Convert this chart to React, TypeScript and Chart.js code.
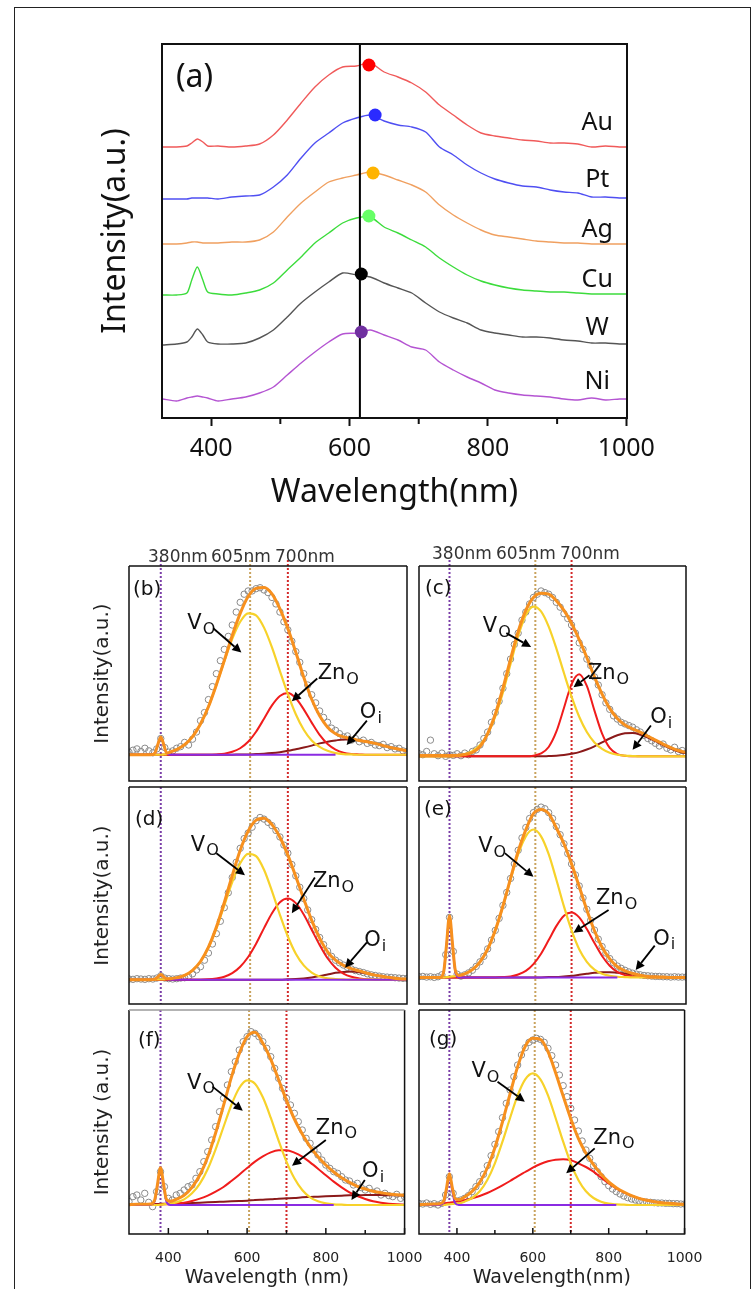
import { useEffect, useRef } from 'react';
import { Chart, registerables } from 'chart.js';

Chart.register(...registerables);

const FONT_A = '"Noto Sans", "DejaVu Sans", sans-serif';
const FONT_L = '"DejaVu Sans", "Noto Sans", sans-serif';

// ---------------- Panel (a): stacked PL spectra ----------------
const A_WAVELENGTH = [330, 350, 365, 372, 380, 388, 395, 410, 430, 450, 470, 490, 510, 530, 550, 570, 590, 610, 630, 650, 670, 690, 710, 730, 750, 770, 790, 810, 830, 850, 870, 890, 910, 930, 950, 970, 990, 1000];
const A_AU = [271, 271, 272, 275, 279, 276, 272, 272, 271, 272, 274, 283, 298, 315, 331, 343, 351, 352, 355, 346, 341, 335, 326, 313, 303, 293, 285, 282, 280, 278, 277, 275, 275, 274, 271, 272, 271, 271];
const A_PT = [219, 219, 219, 220, 220, 220, 220, 219, 221, 222, 223, 231, 243, 260, 275, 285, 295, 300, 303, 297, 293, 291, 286, 271, 263, 253, 245, 239, 235, 232, 231, 228, 226, 225, 221, 221, 220, 220];
const A_AG = [174, 174, 175, 176, 176, 175, 175, 175, 176, 176, 178, 186, 201, 215, 226, 236, 240, 243, 246, 243, 238, 233, 226, 213, 203, 195, 188, 183, 181, 179, 177, 176, 175, 175, 174, 174, 174, 174];
const A_CU = [123, 123, 125, 138, 151, 138, 126, 124, 123, 125, 128, 135, 148, 161, 175, 185, 195, 200, 201, 191, 185, 178, 171, 160, 151, 143, 137, 133, 130, 128, 127, 126, 126, 125, 124, 124, 124, 124];
const A_W = [73, 74, 76, 81, 89, 83, 76, 74, 74, 75, 80, 88, 101, 115, 126, 136, 145, 143, 141, 135, 130, 125, 115, 106, 100, 95, 88, 85, 83, 81, 81, 80, 78, 77, 75, 75, 74, 74];
const A_NI = [19, 17, 20, 21, 22, 21, 20, 17, 19, 21, 25, 31, 43, 55, 66, 76, 84, 85, 88, 83, 78, 71, 68, 56, 48, 41, 35, 28, 25, 23, 22, 21, 19, 18, 20, 18, 19, 19];
const A_SERIES = [A_AU, A_PT, A_AG, A_CU, A_W, A_NI];
const A_NAMES = ['Au', 'Pt', 'Ag', 'Cu', 'W', 'Ni'];
const A_PEAK_WL = [628, 637, 634, 628, 617, 617];
const A_PEAK_VAL = [353, 303, 245, 202, 144, 86];
const A_REF_WL = 615;
const A_X_TICKS = [400, 600, 800, 1000];
const A_X_MINOR = [500, 700, 900];
const A_LABEL_WL = 958;
const A_LABEL_VAL = [295, 238, 188, 138, 90, 36];

const A_LINE_COLORS = ['#F05A5A', '#4F4FF2', '#F0A060', '#3CDC3C', '#555555', '#B454D2'];
const A_DOT_COLORS = ['#FF0000', '#2B2BFF', '#FFB400', '#66FF66', '#000000', '#7030A0'];

// ---------------- Panels (b)-(g): fitted spectra ----------------
const FIT_WL = [300, 320, 340, 355, 365, 372, 380, 388, 395, 405, 420, 440, 460, 480, 500, 520, 540, 560, 580, 600, 620, 640, 660, 680, 700, 720, 740, 760, 780, 800, 820, 840, 860, 880, 900, 920, 940, 960, 980, 1000];
const UV_WL = [300, 340, 355, 365, 372, 380, 388, 395, 405, 420, 500, 600, 700, 820, 1000];
const DATA_WL = [300, 310, 320, 330, 340, 350, 360, 370, 380, 390, 400, 410, 420, 430, 440, 450, 460, 470, 480, 490, 500, 510, 520, 530, 540, 550, 560, 570, 580, 590, 600, 610, 620, 630, 640, 650, 660, 670, 680, 690, 700, 710, 720, 730, 740, 750, 760, 770, 780, 790, 800, 810, 820, 830, 840, 850, 860, 870, 880, 890, 900, 910, 920, 930, 940, 950, 960, 970, 980, 990, 1000];
const GUIDE_WL = [380, 605, 700];
const GUIDE_LABELS = ['380nm', '605nm', '700nm'];
const LOW_X_TICKS = [400, 600, 800, 1000];
const LOW_X_MINOR = [500, 700, 900];

// (b)
const B_DATA = [8, 14, 18, 10, 20, 12, 6, 18, 50, 22, 8, 12, 20, 25, 38, 30, 48, 70, 105, 130, 170, 210, 250, 290, 325, 365, 400, 440, 470, 495, 505, 505, 512, 515, 508, 500, 485, 465, 440, 410, 385, 350, 318, 285, 250, 215, 185, 160, 135, 115, 100, 82, 75, 65, 55, 58, 45, 50, 40, 45, 35, 38, 30, 28, 32, 22, 25, 18, 20, 12, 10];
const B_FIT = [0, 0, 0, 0, 5, 29, 55, 29, 5, 9, 16, 31, 56, 95, 148, 216, 291, 368, 436, 488, 513, 516, 496, 450, 389, 316, 239, 171, 120, 85, 65, 55, 50, 44, 40, 35, 28, 22, 17, 12];
const B_VO = [0, 0, 0, 0, 0, 0, 0, 1, 2, 9, 16, 31, 56, 95, 148, 215, 288, 357, 410, 436, 430, 392, 331, 258, 187, 125, 77, 44, 24, 12, 5, 2, 1, 0, 0, 0, 0, 0, 0, 0];
const B_ZNO = [0, 0, 0, 0, 0, 0, 0, 0, 0, 0, 0, 0, 0, 0, 0, 1, 3, 9, 20, 40, 71, 111, 152, 181, 190, 174, 140, 99, 61, 33, 16, 6, 2, 1, 0, 0, 0, 0, 0, 0];
const B_OI = [0, 0, 0, 0, 0, 0, 0, 0, 0, 0, 0, 0, 0, 0, 0, 0, 0, 0, 1, 1, 2, 3, 5, 8, 12, 17, 22, 28, 35, 40, 44, 47, 47, 44, 40, 35, 28, 22, 17, 12];
const B_UV = [0, 0, 0, 5, 29, 55, 29, 5, 0, 0, 0, 0, 0, 0, null];

// (c)
const C_DATA = [8, 5, 15, 50, 8, 2, 10, 0, 5, 3, 8, 2, 10, 5, 15, 20, 35, 55, 75, 105, 135, 170, 210, 255, 300, 345, 380, 420, 445, 470, 490, 500, 510, 505, 500, 490, 475, 460, 440, 425, 405, 380, 350, 330, 300, 280, 245, 220, 190, 165, 145, 125, 115, 105, 100, 95, 90, 82, 75, 65, 55, 48, 40, 32, 38, 25, 20, 28, 15, 18, 10];
const C_FIT = [3, 3, 3, 3, 3, 3, 3, 3, 3, 4, 6, 12, 30, 70, 130, 210, 300, 385, 450, 490, 503, 500, 480, 450, 410, 360, 305, 245, 192, 148, 117, 97, 85, 75, 62, 50, 38, 27, 18, 12];
const C_VO = [0, 0, 0, 0, 0, 0, 0, 0, 1, 2, 7, 16, 35, 69, 123, 197, 285, 371, 436, 462, 447, 400, 333, 257, 184, 122, 75, 43, 23, 11, 5, 2, 1, 0, 0, 0, 0, 0, 0, 0];
const C_ZNO = [0, 0, 0, 0, 0, 0, 0, 0, 0, 0, 0, 0, 0, 0, 0, 0, 0, 0, 0, 2, 9, 29, 76, 149, 223, 253, 217, 141, 70, 26, 7, 2, 0, 0, 0, 0, 0, 0, 0, 0];
const C_OI = [0, 0, 0, 0, 0, 0, 0, 0, 0, 0, 0, 0, 0, 0, 0, 0, 0, 0, 0, 0, 0, 1, 2, 4, 8, 13, 21, 31, 43, 55, 65, 71, 72, 67, 58, 47, 35, 24, 15, 9];

// (d)
const D_DATA = [2, 1, 3, 2, 1, 3, 2, 5, 12, 5, 3, 2, 3, 5, 6, 10, 18, 30, 40, 60, 82, 110, 142, 180, 222, 268, 315, 362, 405, 435, 452, 470, 490, 500, 495, 485, 475, 460, 440, 415, 390, 355, 320, 285, 250, 215, 185, 155, 130, 108, 88, 72, 60, 52, 45, 38, 33, 28, 25, 22, 18, 15, 13, 11, 9, 8, 7, 6, 5, 4, 4];
const D_FIT = [0, 0, 0, 0, 2, 8, 16, 8, 3, 3, 6, 13, 29, 56, 100, 162, 238, 321, 399, 458, 492, 498, 478, 439, 384, 318, 249, 183, 128, 86, 60, 44, 34, 27, 20, 14, 10, 6, 3, 2];
const D_VO = [0, 0, 0, 0, 0, 1, 1, 1, 2, 3, 6, 13, 29, 56, 99, 158, 229, 301, 359, 388, 381, 339, 273, 200, 133, 80, 44, 22, 10, 4, 2, 1, 0, 0, 0, 0, 0, 0, 0, 0];
const D_ZNO = [0, 0, 0, 0, 0, 0, 0, 0, 0, 0, 0, 0, 0, 0, 1, 4, 9, 20, 40, 70, 111, 159, 205, 239, 250, 236, 201, 154, 107, 66, 37, 19, 9, 4, 1, 0, 0, 0, 0, 0];
const D_OI = [0, 0, 0, 0, 0, 0, 0, 0, 0, 0, 0, 0, 0, 0, 0, 0, 0, 0, 0, 0, 0, 0, 0, 0, 1, 2, 4, 7, 11, 16, 21, 24, 25, 23, 19, 14, 10, 6, 3, 2];
const D_UV = [0, 0, 0, 2, 8, 15, 8, 2, 0, 0, 0, 0, 0, 0, 0];

// (e)
const E_DATA = [2, 3, 1, 2, 0, 2, 8, 70, 185, 80, 10, 4, 8, 14, 22, 34, 48, 65, 88, 115, 145, 182, 222, 262, 305, 350, 392, 430, 462, 490, 508, 518, 525, 520, 508, 490, 465, 440, 412, 382, 350, 316, 282, 245, 210, 176, 146, 118, 95, 75, 58, 45, 35, 28, 22, 17, 13, 10, 8, 6, 5, 4, 3, 3, 2, 2, 1, 2, 1, 1, 1];
const E_FIT = [0, 0, 0, 0, 19, 99, 190, 101, 23, 6, 11, 24, 48, 87, 145, 220, 305, 389, 455, 505, 518, 505, 461, 412, 350, 280, 208, 144, 93, 57, 33, 20, 12, 7, 3, 2, 1, 0, 0, 0];
const E_VO = [0, 0, 0, 0, 0, 1, 2, 3, 4, 6, 11, 24, 48, 87, 145, 219, 302, 380, 435, 456, 435, 380, 302, 219, 145, 87, 48, 24, 11, 5, 2, 1, 0, 0, 0, 0, 0, 0, 0, 0];
const E_ZNO = [0, 0, 0, 0, 0, 0, 0, 0, 0, 0, 0, 0, 0, 0, 0, 1, 3, 9, 20, 41, 73, 115, 158, 190, 200, 185, 149, 106, 66, 36, 17, 7, 3, 1, 0, 0, 0, 0, 0, 0];
const E_OI = [0, 0, 0, 0, 0, 0, 0, 0, 0, 0, 0, 0, 0, 0, 0, 0, 0, 0, 0, 0, 0, 1, 1, 3, 5, 8, 11, 14, 16, 16, 14, 12, 9, 6, 3, 2, 1, 0, 0, 0];
const E_UV = [0, 0, 0, 19, 98, 188, 98, 19, 0, 0, 0, 0, 0, 0, null];

// (f)
const F_DATA = [10, 25, 30, 15, 35, 8, -5, 40, 100, 55, 20, 15, 30, 35, 45, 55, 60, 80, 100, 130, 160, 195, 235, 280, 320, 360, 400, 430, 465, 490, 505, 520, 515, 505, 490, 470, 445, 410, 380, 350, 320, 300, 275, 250, 225, 200, 185, 165, 150, 135, 120, 110, 100, 95, 85, 75, 72, 60, 65, 52, 45, 50, 38, 42, 30, 35, 28, 25, 32, 20, 25];
const F_FIT = [1, 2, 2, 3, 14, 59, 112, 61, 17, 11, 17, 29, 53, 90, 144, 216, 298, 383, 454, 505, 518, 485, 437, 376, 314, 258, 213, 175, 145, 120, 99, 82, 68, 56, 48, 41, 37, 33, 31, 29];
const F_VO = [0, 0, 0, 0, 0, 0, 1, 2, 3, 4, 8, 17, 35, 64, 108, 167, 234, 300, 351, 374, 364, 323, 262, 193, 130, 80, 45, 23, 11, 5, 2, 1, 0, 0, 0, 0, 0, 0, 0, 0];
const F_ZNO = [0, 0, 0, 0, 1, 1, 1, 2, 2, 3, 4, 7, 12, 19, 28, 40, 54, 72, 91, 111, 130, 146, 158, 164, 164, 157, 145, 128, 109, 89, 70, 53, 38, 27, 18, 11, 7, 4, 2, 1];
const F_OI = [1, 2, 2, 3, 3, 3, 3, 4, 4, 4, 5, 5, 6, 7, 8, 9, 10, 11, 12, 13, 15, 16, 17, 19, 20, 21, 23, 24, 25, 26, 27, 28, 29, 29, 30, 30, 30, 29, 29, 28];
const F_UV = [0, 0, 1, 10, 55, 107, 55, 10, 0, 0, 0, 0, 0, 0, null];

// (g)
const G_DATA = [5, 3, 6, 2, 4, 0, 5, 30, 85, 35, 12, 15, 20, 28, 40, 55, 70, 92, 118, 148, 182, 220, 262, 305, 345, 385, 420, 450, 472, 488, 495, 500, 497, 488, 470, 448, 420, 390, 358, 325, 290, 255, 222, 192, 165, 140, 118, 100, 85, 70, 58, 48, 40, 33, 27, 22, 18, 15, 12, 10, 9, 8, 7, 6, 6, 5, 5, 4, 4, 3, 3];
const G_FIT = [1, 2, 3, 4, 11, 47, 94, 51, 19, 16, 24, 41, 68, 111, 172, 249, 333, 415, 476, 500, 497, 460, 397, 327, 259, 200, 155, 121, 92, 69, 52, 39, 28, 20, 14, 10, 7, 5, 3, 2];
const G_VO = [0, 0, 0, 0, 0, 1, 2, 3, 4, 5, 10, 21, 41, 75, 125, 190, 261, 329, 377, 395, 377, 329, 261, 190, 125, 75, 41, 21, 10, 4, 2, 1, 0, 0, 0, 0, 0, 0, 0, 0];
const G_ZNO = [1, 2, 3, 4, 5, 6, 7, 8, 9, 11, 14, 20, 27, 36, 47, 59, 72, 86, 99, 112, 123, 131, 136, 137, 134, 125, 114, 100, 82, 65, 50, 38, 28, 20, 14, 10, 7, 5, 3, 2];
const G_UV = [0, 0, 0, 6, 40, 85, 40, 6, 0, 0, 0, 0, 0, 0, null];

// ---------------- styles / layout ----------------
const COLOR_FIT = '#F7901E';
const COLOR_VO = '#F7D22A';
const COLOR_ZNO = '#F01C1C';
const COLOR_OI = '#8B1A1A';
const COLOR_UV = '#8A2BE2';
const GUIDE_COLORS = ['#7B3FA8', '#C9A35E', '#D42A2A'];

const COLS = [
  { canvasLeft: 80, canvasWidth: 350, areaLeft: 129, areaRight: 407 },
  { canvasLeft: 395, canvasWidth: 315, areaLeft: 407, areaRight: 686 },
];
const ROWS = [
  { canvasTop: 548, canvasHeight: 245, areaTop: 566, areaBottom: 787 },
  { canvasTop: 780, canvasHeight: 236, areaTop: 787, areaBottom: 1010 },
  { canvasTop: 1003, canvasHeight: 286, areaTop: 1010, areaBottom: 1234 },
];

const VO = (tx, ty, x1, y1, x2, y2) => ({ main: 'V', sub: 'O', tx, ty, x1, y1, x2, y2 });
const ZN = (tx, ty, x1, y1, x2, y2) => ({ main: 'Zn', sub: 'O', tx, ty, x1, y1, x2, y2 });
const OI = (tx, ty, x1, y1, x2, y2) => ({ main: 'O', sub: 'i', tx, ty, x1, y1, x2, y2 });

const PANELS: any[] = [
  { letter: '(b)', col: 0, row: 0, yMin: -81, yMax: 582, data: B_DATA, fit: B_FIT, vo: B_VO, zno: B_ZNO, oi: B_OI, uv: B_UV, yTitle: 'Intensity(a.u.)', letterOff: [4, 24], topColor: '#111',
    ann: [VO(482, 405, 512, 390, 583, 315), ZN(827, 250, 774, 235, 710, 165), OI(909, 130, 899, 105, 848, 30)] },
  { letter: '(c)', col: 1, row: 0, yMin: -76, yMax: 587, data: C_DATA, fit: C_FIT, vo: C_VO, zno: C_ZNO, oi: C_OI, uv: null, letterOff: [6, 23], topColor: '#111',
    ann: [VO(504, 400, 529, 380, 594, 337), ZN(797, 255, 747, 250, 705, 213), OI(935, 120, 908, 95, 860, 20)] },
  { letter: '(d)', col: 0, row: 1, yMin: -75, yMax: 594, data: D_DATA, fit: D_FIT, vo: D_VO, zno: D_ZNO, oi: D_OI, uv: D_UV, yTitle: 'Intensity(a.u.)', letterOff: [6, 33], topColor: '#111',
    ann: [VO(491, 415, 520, 390, 592, 322), ZN(815, 303, 768, 315, 710, 205), OI(920, 120, 899, 115, 844, 37)] },
  { letter: '(e)', col: 1, row: 1, yMin: -82, yMax: 587, data: E_DATA, fit: E_FIT, vo: E_VO, zno: E_ZNO, oi: E_OI, uv: E_UV, letterOff: [5, 23], topColor: '#111',
    ann: [VO(492, 403, 525, 383, 600, 310), ZN(818, 243, 797, 208, 705, 138), OI(943, 118, 918, 98, 868, 23)] },
  { letter: '(f)', col: 0, row: 2, yMin: -87, yMax: 585, data: F_DATA, fit: F_FIT, vo: F_VO, zno: F_ZNO, oi: F_OI, uv: F_UV, yTitle: 'Intensity (a.u.)', xTitle: 'Wavelength (nm)', letterOff: [9, 31], topColor: '#9a9a9a',
    ann: [VO(483, 365, 512, 355, 589, 283), ZN(827, 230, 800, 195, 714, 118), OI(920, 100, 899, 75, 865, 15)] },
  { letter: '(g)', col: 1, row: 2, yMin: -87, yMax: 585, data: G_DATA, fit: G_FIT, vo: G_VO, zno: G_ZNO, oi: null, uv: G_UV, xTitle: 'Wavelength(nm)', letterOff: [10, 30], topColor: '#111',
    ann: [VO(475, 400, 507, 370, 579, 310), ZN(814, 200, 763, 170, 688, 95)] },
];

function drawArrow(ctx, x1, y1, x2, y2) {
  const ang = Math.atan2(y2 - y1, x2 - x1);
  const L = 9, W = 4.5;
  const bx = x2 - L * Math.cos(ang), by = y2 - L * Math.sin(ang);
  ctx.strokeStyle = '#000';
  ctx.fillStyle = '#000';
  ctx.lineWidth = 1.8;
  ctx.beginPath();
  ctx.moveTo(x1, y1);
  ctx.lineTo(bx, by);
  ctx.stroke();
  ctx.beginPath();
  ctx.moveTo(x2, y2);
  ctx.lineTo(bx - W * Math.sin(ang), by + W * Math.cos(ang));
  ctx.lineTo(bx + W * Math.sin(ang), by - W * Math.cos(ang));
  ctx.closePath();
  ctx.fill();
}

function drawSubLabel(ctx, cx, cy, main, sub) {
  const mainFont = `21px ${FONT_L}`;
  const subFont = `16px ${FONT_L}`;
  ctx.font = mainFont;
  const w1 = ctx.measureText(main).width;
  ctx.font = subFont;
  const w2 = ctx.measureText(sub).width;
  const x0 = cx - (w1 + w2 + 1) / 2;
  ctx.fillStyle = '#111';
  ctx.textAlign = 'left';
  ctx.textBaseline = 'middle';
  ctx.font = mainFont;
  ctx.fillText(main, x0, cy);
  ctx.font = subFont;
  ctx.fillText(sub, x0 + w1 + 1, cy + 6);
}

function makeLowerChart(canvas, p) {
  const col = COLS[p.col];
  const row = ROWS[p.row];
  const bottomRow = p.row === 2;
  const leftCol = p.col === 0;
  const pts = (xs, ys) => xs.map((x, i) => ({ x, y: ys[i] }));
  const line = (label, xs, ys, color, width) => ({
    type: 'line', label, data: pts(xs, ys), borderColor: color, borderWidth: width,
    pointRadius: 0, fill: false, cubicInterpolationMode: 'monotone', spanGaps: false,
  });
  const datasets: any[] = [line('Fit', FIT_WL, p.fit, COLOR_FIT, 3)];
  if (p.uv) datasets.push(line('UV', UV_WL, p.uv, COLOR_UV, 2));
  datasets.push(line('VO', FIT_WL, p.vo, COLOR_VO, 2.2));
  datasets.push(line('ZnO', FIT_WL, p.zno, COLOR_ZNO, 2));
  if (p.oi) datasets.push(line('Oi', FIT_WL, p.oi, COLOR_OI, 2));
  datasets.push({
    type: 'line', label: 'Data', data: pts(DATA_WL, p.data), showLine: false,
    pointRadius: 3.2, pointBorderWidth: 1, pointBorderColor: '#8a8a8a', pointBackgroundColor: 'rgba(255,255,255,0)',
  });

  const padLeft = leftCol ? 0 : col.areaLeft - col.canvasLeft;
  const padRight = col.canvasLeft + col.canvasWidth - col.areaRight;
  const padTop = row.areaTop - row.canvasTop;
  const padBottom = bottomRow ? 0 : row.canvasTop + row.canvasHeight - row.areaBottom;

  const decor = {
    id: 'lowerDecor',
    beforeDatasetsDraw(chart) {
      const { ctx, chartArea: a } = chart;
      const x = chart.scales.x;
      ctx.save();
      ctx.lineWidth = 2;
      ctx.setLineDash([2, 2]);
      GUIDE_WL.forEach((wl, i) => {
        const px = x.getPixelForValue(wl);
        ctx.strokeStyle = GUIDE_COLORS[i];
        ctx.beginPath();
        ctx.moveTo(px, a.top - (p.row === 0 ? 6 : 0));
        ctx.lineTo(px, a.bottom);
        ctx.stroke();
      });
      ctx.restore();
    },
    afterDraw(chart) {
      const { ctx, chartArea: a } = chart;
      const x = chart.scales.x;
      const y = chart.scales.y;
      ctx.save();
      ctx.setLineDash([]);
      ctx.lineWidth = 1.5;
      ctx.strokeStyle = '#111';
      ctx.beginPath();
      ctx.moveTo(a.left, a.top);
      ctx.lineTo(a.left, a.bottom);
      ctx.lineTo(a.right, a.bottom);
      ctx.lineTo(a.right, a.top);
      ctx.stroke();
      ctx.strokeStyle = p.topColor;
      ctx.beginPath();
      ctx.moveTo(a.left, a.top);
      ctx.lineTo(a.right, a.top);
      ctx.stroke();
      if (bottomRow) {
        ctx.strokeStyle = '#111';
        ctx.lineWidth = 1.5;
        LOW_X_TICKS.forEach((v) => {
          const px = x.getPixelForValue(v);
          ctx.beginPath(); ctx.moveTo(px, a.bottom); ctx.lineTo(px, a.bottom - 6); ctx.stroke();
        });
        LOW_X_MINOR.forEach((v) => {
          const px = x.getPixelForValue(v);
          ctx.beginPath(); ctx.moveTo(px, a.bottom); ctx.lineTo(px, a.bottom - 4); ctx.stroke();
        });
      }
      ctx.fillStyle = '#111';
      ctx.font = `20px ${FONT_L}`;
      ctx.textAlign = 'left';
      ctx.textBaseline = 'middle';
      ctx.fillText(p.letter, a.left + p.letterOff[0], a.top + p.letterOff[1]);
      p.ann.forEach((an) => {
        drawSubLabel(ctx, x.getPixelForValue(an.tx), y.getPixelForValue(an.ty), an.main, an.sub);
        drawArrow(ctx, x.getPixelForValue(an.x1), y.getPixelForValue(an.y1), x.getPixelForValue(an.x2), y.getPixelForValue(an.y2));
      });
      ctx.restore();
    },
  };

  return new Chart(canvas, {
    type: 'line',
    data: { datasets },
    options: {
      responsive: false,
      animation: false,
      devicePixelRatio: 1,
      events: [],
      layout: { padding: { left: padLeft, right: padRight, top: padTop, bottom: padBottom } },
      plugins: { legend: { display: false }, tooltip: { enabled: false } },
      scales: {
        x: {
          type: 'linear', min: 300, max: 1000, display: bottomRow,
          afterBuildTicks: (s) => { s.ticks = LOW_X_TICKS.map((v) => ({ value: v })); },
          ticks: { autoSkip: false, maxRotation: 0, padding: 7.6, color: '#222', font: { family: FONT_L, size: 14 }, callback: (v) => String(v) },
          grid: { display: false },
          border: { display: false },
          title: { display: !!p.xTitle, text: p.xTitle || '', color: '#222', font: { family: FONT_L, size: 19 }, padding: { top: 0, bottom: 0 } },
          afterFit: (s) => { s.height = row.canvasTop + row.canvasHeight - row.areaBottom; },
        },
        y: {
          type: 'linear', min: p.yMin, max: p.yMax, display: leftCol,
          ticks: { display: false },
          grid: { display: false },
          border: { display: false },
          title: { display: !!p.yTitle, text: p.yTitle || '', color: '#222', font: { family: FONT_L, size: 20 }, padding: { top: 11, bottom: 0 } },
          afterFit: (s) => { s.width = col.areaLeft - col.canvasLeft; },
        },
      },
    },
    plugins: [decor],
  } as any);
}

function makeTopChart(canvas) {
  const datasets: any[] = [
    {
      type: 'scatter', label: 'Peaks', showLine: false,
      data: A_PEAK_WL.map((x, i) => ({ x, y: A_PEAK_VAL[i] })),
      pointRadius: 6.5, pointBorderWidth: 0,
      pointBackgroundColor: A_DOT_COLORS, pointBorderColor: A_DOT_COLORS,
    },
    {
      type: 'line', label: 'ref', data: [{ x: A_REF_WL, y: 0 }, { x: A_REF_WL, y: 374 }],
      borderColor: '#000', borderWidth: 2, pointRadius: 0, tension: 0,
    },
    ...A_SERIES.map((ys, k) => ({
      type: 'line', label: A_NAMES[k],
      data: A_WAVELENGTH.map((x, i) => ({ x, y: ys[i] })),
      borderColor: A_LINE_COLORS[k], borderWidth: 1.4, pointRadius: 0, tension: 0.25,
    })),
  ];
  const decor = {
    id: 'topDecor',
    afterDraw(chart) {
      const { ctx, chartArea: a } = chart;
      const x = chart.scales.x;
      const y = chart.scales.y;
      ctx.save();
      ctx.strokeStyle = '#111';
      ctx.lineWidth = 2;
      ctx.strokeRect(a.left, a.top, a.right - a.left, a.bottom - a.top);
      A_X_MINOR.forEach((v) => {
        const px = x.getPixelForValue(v);
        ctx.beginPath(); ctx.moveTo(px, a.bottom); ctx.lineTo(px, a.bottom + 6); ctx.stroke();
      });
      ctx.fillStyle = '#111';
      ctx.textBaseline = 'middle';
      ctx.textAlign = 'left';
      ctx.font = `32px ${FONT_A}`;
      ctx.fillText('(a)', a.left + 14, a.top + 34);
      ctx.textAlign = 'center';
      ctx.font = `25px ${FONT_A}`;
      A_NAMES.forEach((n, i) => {
        ctx.fillText(n, x.getPixelForValue(A_LABEL_WL), y.getPixelForValue(A_LABEL_VAL[i]));
      });
      ctx.restore();
    },
  };
  return new Chart(canvas, {
    type: 'line',
    data: { datasets },
    options: {
      responsive: false,
      animation: false,
      devicePixelRatio: 1,
      events: [],
      layout: { padding: { left: 0, right: 53, top: 14, bottom: 0 } },
      plugins: { legend: { display: false }, tooltip: { enabled: false } },
      scales: {
        x: {
          type: 'linear', min: 329, max: 1001,
          afterBuildTicks: (s) => { s.ticks = A_X_TICKS.map((v) => ({ value: v })); },
          ticks: { autoSkip: false, maxRotation: 0, padding: 8, color: '#111', font: { family: FONT_A, size: 25 }, callback: (v) => String(v) },
          grid: { display: true, drawOnChartArea: false, drawTicks: true, tickLength: 8, tickWidth: 2, tickColor: '#111' },
          border: { display: false },
          title: { display: true, text: 'Wavelength(nm)', color: '#111', font: { family: FONT_A, size: 32 }, padding: { top: 0, bottom: 18 } },
          afterFit: (s) => { s.height = 112; },
        },
        y: {
          type: 'linear', min: 0, max: 374,
          ticks: { display: false },
          grid: { display: false },
          border: { display: false },
          title: { display: true, text: 'Intensity(a.u.)', color: '#111', font: { family: FONT_A, size: 32 }, padding: { top: 37, bottom: 0 } },
          afterFit: (s) => { s.width = 102; },
        },
      },
    },
    plugins: [decor],
  } as any);
}

export default function App() {
  const topRef = useRef<HTMLCanvasElement | null>(null);
  const lowRefs = useRef<(HTMLCanvasElement | null)[]>([]);

  useEffect(() => {
    const charts: Chart[] = [];
    if (topRef.current) charts.push(makeTopChart(topRef.current));
    PANELS.forEach((p, i) => {
      const c = lowRefs.current[i];
      if (c) charts.push(makeLowerChart(c, p));
    });
    return () => { charts.forEach((c) => c.destroy()); };
  }, []);

  const guideLabelPos = [
    { lefts: [148, 211, 275], top: 546 },
    { lefts: [432, 496, 560], top: 543 },
  ];

  return (
    <div style={{ position: 'absolute', left: 0, top: 0, width: 755, height: 1289, overflow: 'hidden', background: '#fff' }}>
      <div style={{ position: 'absolute', left: 14, top: 7, width: 737, height: 1290, border: '1.5px solid #222', borderBottom: 'none', boxSizing: 'border-box' }} />
      <canvas ref={topRef} width={620} height={500} style={{ position: 'absolute', left: 60, top: 30, width: 620, height: 500 }} />
      {PANELS.map((p, i) => {
        const col = COLS[p.col];
        const row = ROWS[p.row];
        return (
          <canvas
            key={p.letter}
            ref={(el) => { lowRefs.current[i] = el; }}
            width={col.canvasWidth}
            height={row.canvasHeight}
            style={{ position: 'absolute', left: col.canvasLeft, top: row.canvasTop, width: col.canvasWidth, height: row.canvasHeight }}
          />
        );
      })}
      {guideLabelPos.map((g, gi) =>
        GUIDE_LABELS.map((t, ti) => (
          <span
            key={`${gi}-${ti}`}
            style={{ position: 'absolute', left: g.lefts[ti], top: g.top, fontFamily: FONT_L, fontSize: 17, lineHeight: '20px', color: '#333', whiteSpace: 'nowrap' }}
          >
            {t}
          </span>
        ))
      )}
    </div>
  );
}
